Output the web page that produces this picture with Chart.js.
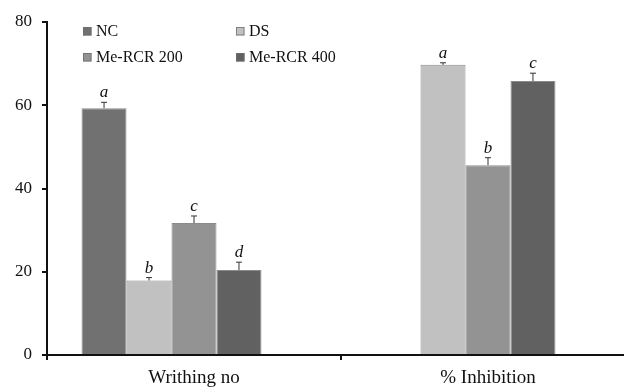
<!DOCTYPE html>
<html>
<head>
<meta charset="utf-8">
<script src="https://cdn.jsdelivr.net/npm/chart.js@4"></script>
<style>
  html, body { margin: 0; padding: 0; background: #fff; overflow: hidden; }
  #wrap { width: 640px; height: 387px; }
</style>
</head>
<body>
<div id="wrap"><canvas id="barChart" width="640" height="387"></canvas></div>
<script>
const categories = ['Writhing no', '% Inhibition'];
const seriesNames = ['NC', 'DS', 'Me-RCR 200', 'Me-RCR 400'];
const seriesColors = ['#717171', '#c1c1c1', '#939393', '#616161'];
const ncValues = [59.3, null];
const dsValues = [17.9, 69.7];
const me200Values = [31.7, 45.6];
const me400Values = [20.4, 65.8];
const ncErrors = [1.4, null];
const dsErrors = [0.7, 0.5];
const me200Errors = [1.7, 1.8];
const me400Errors = [1.9, 1.9];
const ncLetters = ['a', null];
const dsLetters = ['b', 'a'];
const me200Letters = ['c', 'b'];
const me400Letters = ['d', 'c'];
const yTicks = [0, 20, 40, 60, 80];

const seriesValues = [ncValues, dsValues, me200Values, me400Values];
const seriesErrors = [ncErrors, dsErrors, me200Errors, me400Errors];
const seriesLetters = [ncLetters, dsLetters, me200Letters, me400Letters];

const datasets = seriesNames.map((name, i) => ({
  label: name,
  data: seriesValues[i],
  backgroundColor: seriesColors[i],
  borderColor: 'rgba(110,110,110,0.8)',
  borderWidth: 1,
  errors: seriesErrors[i],
  letters: seriesLetters[i]
}));
// empty slot so each group sits left of the category centre, as in the original
datasets.push({ label: '', data: [null, null], backgroundColor: 'rgba(0,0,0,0)' });

const errorBars = {
  id: 'errorBars',
  afterDatasetsDraw(chart) {
    const ctx = chart.ctx;
    const y = chart.scales.y;
    chart.data.datasets.forEach((ds, i) => {
      if (!ds.errors) return;
      const meta = chart.getDatasetMeta(i);
      meta.data.forEach((bar, j) => {
        const v = ds.data[j];
        if (v === null) return;
        const top = y.getPixelForValue(v + ds.errors[j]);
        ctx.save();
        ctx.strokeStyle = '#333';
        ctx.lineWidth = 1;
        ctx.beginPath();
        ctx.moveTo(bar.x, bar.y);
        ctx.lineTo(bar.x, top);
        ctx.moveTo(bar.x - 3, top);
        ctx.lineTo(bar.x + 3, top);
        ctx.stroke();
        if (ds.letters[j]) {
          ctx.fillStyle = '#111';
          ctx.font = 'italic 17px "Liberation Serif", "Times New Roman", serif';
          ctx.textAlign = 'center';
          ctx.textBaseline = 'alphabetic';
          ctx.fillText(ds.letters[j], bar.x, top - 5);
        }
        ctx.restore();
      });
    });
  }
};

const boxLegend = {
  id: 'boxLegend',
  afterDraw(chart) {
    const ctx = chart.ctx;
    const cols = [83, 236];
    const rows = [35.5, 61.5];
    ctx.save();
    ctx.font = '16px "Liberation Serif", "Times New Roman", serif';
    ctx.textBaseline = 'alphabetic';
    ctx.textAlign = 'left';
    seriesNames.forEach((name, i) => {
      const x = cols[i % 2];
      const base = rows[Math.floor(i / 2)];
      ctx.fillStyle = seriesColors[i];
      ctx.fillRect(x, base - 8.5, 8.5, 8.5);
      ctx.strokeStyle = 'rgba(110,110,110,0.8)';
      ctx.lineWidth = 1;
      ctx.strokeRect(x + 0.5, base - 8, 7.5, 7.5);
      ctx.fillStyle = '#111';
      ctx.fillText(name, x + 13, base);
    });
    ctx.restore();
  }
};

const ctx = document.getElementById('barChart').getContext('2d');
new Chart(ctx, {
  type: 'bar',
  data: { labels: categories, datasets: datasets },
  options: {
    responsive: false,
    animation: false,
    layout: { padding: { top: 22, right: 5, left: 0, bottom: 0 } },
    plugins: { legend: { display: false }, tooltip: { enabled: false } },
    datasets: { bar: { barPercentage: 1, categoryPercentage: 0.765 } },
    scales: {
      x: {
        grid: { display: true, drawOnChartArea: false, drawTicks: true, tickLength: 5, color: '#111', lineWidth: 2, offset: true },
        border: { display: true, color: '#111', width: 2 },
        ticks: { color: '#111', padding: 7, font: { family: '"Liberation Serif", "Times New Roman", serif', size: 19 } },
        afterFit(scale) { scale.height = 32; }
      },
      y: {
        min: 0,
        max: 80,
        afterBuildTicks(scale) { scale.ticks = yTicks.map(v => ({ value: v })); },
        grid: { display: true, drawOnChartArea: false, drawTicks: true, tickLength: 5, color: '#111', lineWidth: 2 },
        border: { display: true, color: '#111', width: 2 },
        ticks: { color: '#111', padding: 10, font: { family: '"Liberation Serif", "Times New Roman", serif', size: 17 } },
        afterFit(scale) { scale.width = 47; }
      }
    }
  },
  plugins: [errorBars, boxLegend]
});
</script>
</body>
</html>
